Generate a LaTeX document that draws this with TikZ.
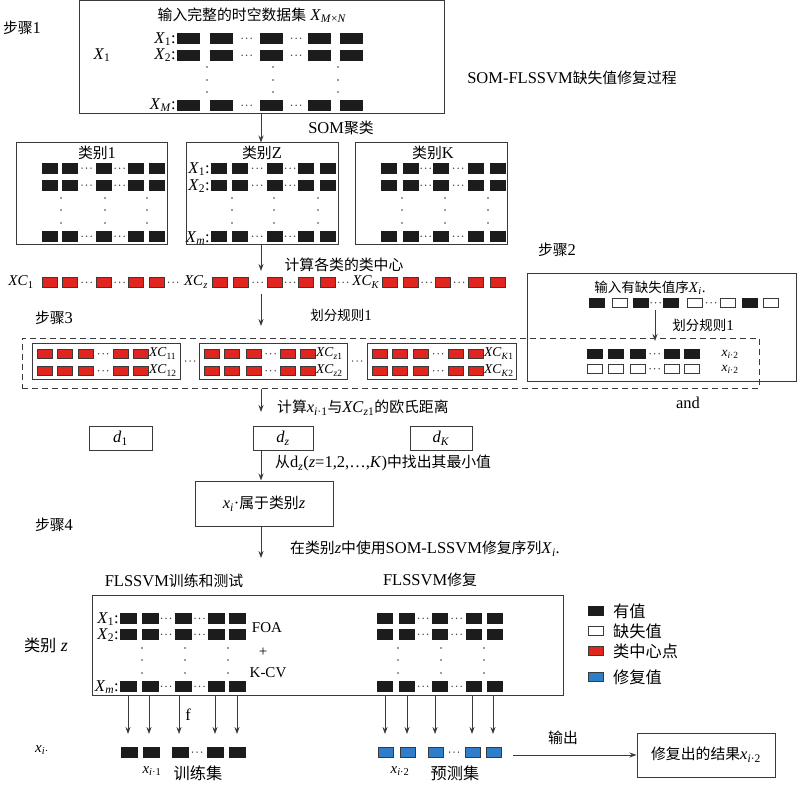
\documentclass[tikz,border=0pt]{standalone}
\usepackage{fontspec}
\setmainfont{Liberation Serif}
\newfontfamily\cjk[Scale=0.9]{Noto Sans CJK SC}
\usetikzlibrary{arrows.meta}
\newcommand\zh[1]{{\cjk #1}}
\newcommand\vv[2]{\textit{#1}\textsubscript{#2}}
\definecolor{cblack}{HTML}{1C1C1C}
\definecolor{cred}{HTML}{E0241E}
\definecolor{cblue}{HTML}{2F7EC9}
\definecolor{lcol}{HTML}{3A3A3A}
\tikzset{
 framebox/.style={draw=lcol, line width=1pt, rectangle, inner sep=0pt},
 dbox/.style={draw=lcol, line width=1pt, rectangle, inner sep=0pt, dash pattern=on 6pt off 4pt},
 arr/.style={draw=lcol, line width=0.9pt, -{Stealth[length=7pt,width=5pt]}},
 blk/.style={fill=cblack, draw=cblack, line width=0.5pt},
 wht/.style={fill=white, draw=lcol, line width=0.8pt},
 rd/.style={fill=cred, draw=lcol, line width=0.5pt},
 bl/.style={fill=cblue, draw=lcol, line width=0.5pt},
 lbl/.style={inner sep=0pt, font=\fontsize{16.5}{18}\selectfont},
 big/.style={inner sep=0pt, font=\fontsize{18}{20}\selectfont},
 sml/.style={inner sep=0pt, font=\fontsize{15}{17}\selectfont},
 tny/.style={inner sep=0pt, font=\fontsize{13.5}{15}\selectfont},
}
% style, top, width, height, list of left x
\newcommand\cellrow[5]{\foreach \cx in {#5}{\draw[#1] (\cx,#2) rectangle ++(#3,#4);}}
\newcommand\hd[2]{\foreach \dd in {-4.5,0,4.5}{\fill[lcol] ({#1+(\dd)},#2) circle (0.75);}}
\newcommand\vd[2]{\foreach \vy in {#2}{\fill[lcol] (#1,\vy) circle (0.9);}}
\begin{document}
\begin{tikzpicture}[x=1pt,y=-1pt]
\useasboundingbox (0,0) rectangle (800,786);
\coordinate (ax) at (261,0);

% ---------- step 1 ----------
\node[lbl] (st1) at (22,28) {\zh{步骤}1};
\node[framebox, minimum width=365pt, minimum height=113pt] (top) at (261.5,57.5) {};
\node[lbl] (ttl) at (252,15) {\zh{输入完整的时空数据集} \vv{X}{\textit{M}×\textit{N}}};
\node[lbl] (bigx) at (102,55) {\vv{X}{1}};
\node[lbl, anchor=east] (tx1) at (176,39) {\vv{X}{1}:};
\node[lbl, anchor=east] (tx2) at (176,55) {\vv{X}{2}:};
\node[lbl, anchor=east] (txm) at (176,105) {\vv{X}{\textit{M}}:};
\cellrow{blk}{33}{22}{10.5}{177,210,260,308,340}
\cellrow{blk}{50}{22}{10.5}{177,210,260,308,340}
\cellrow{blk}{100}{22}{10.5}{177,210,260,308,340}
\foreach \ry in {38.25,55.25,105.25}{\hd{246.5}{\ry}\hd{296}{\ry}}
\foreach \vx in {207,273,338}{\vd{\vx}{67,80,92}}
\node[lbl] (proc) at (572,78) {SOM-FLSSVM\zh{缺失值修复过程}};

\node[lbl] (som) at (341,128) {SOM\zh{聚类}};

% ---------- clusters ----------
\node[framebox, minimum width=151pt, minimum height=102pt] (c1) at (91.5,194) {};
\node[framebox, minimum width=152pt, minimum height=102pt] (c2) at (262,194) {};
\node[framebox, minimum width=152pt, minimum height=102pt] (c3) at (431,194) {};
\node[lbl] (c1t) at (97,153) {\zh{类别}1};
\node[lbl] (c2t) at (262,153) {\zh{类别}Z};
\node[lbl] (c3t) at (433,153) {\zh{类别}K};
\foreach \ry in {163,180,231}{
  \cellrow{blk}{\ry}{15}{10.5}{42,62,96,128,149}
  \cellrow{blk}{\ry}{15}{10.5}{211,232,267,298,320}
  \cellrow{blk}{\ry}{15}{10.5}{381,403,433,468,490}
}
\foreach \ry in {168.25,185.25,236.25}{\hd{86.5}{\ry}\hd{119.5}{\ry}\hd{257}{\ry}\hd{290}{\ry}\hd{425.5}{\ry}\hd{458}{\ry}}
\foreach \vx in {61,105,147,232,274,318,402,445,488}{\vd{\vx}{198,210,223}}
\node[lbl, anchor=east] (cx1) at (210,169) {\vv{X}{1}:};
\node[lbl, anchor=east] (cx2) at (210,186) {\vv{X}{2}:};
\node[lbl, anchor=east] (cxm) at (210,238) {\vv{X}{\textit{m}}:};

\draw[arr] (top.south -| ax) -- (c2.north -| ax);

% ---------- class centres ----------
\coordinate (e2) at (261,271);
\draw[arr] (c2.south -| ax) -- (e2);
\node[lbl] (cent) at (344,265) {\zh{计算各类的类中心}};
\cellrow{rd}{277}{15}{10.5}{42,62,96,128,149,212,233,267,298,320,382,403,435,468,490}
\foreach \hx in {86.5,119.5,257.5,290,426.5,459,173,343}{\hd{\hx}{282.25}}
\node[sml] (xc1) at (21,282) {\vv{XC}{1}};
\node[sml] (xcz) at (196,282) {\vv{XC}{\textit{z}}};
\node[sml] (xck) at (366,282) {\vv{XC}{\textit{K}}};

% ---------- step 3 ----------
\node[lbl] (st3) at (54,318) {\zh{步骤}3};
\coordinate (s3) at (261,294);
\coordinate (e3) at (261,326);
\draw[arr] (s3) -- (e3);
\node[sml] (rule1) at (341,315) {\zh{划分规则}1};
\node[dbox, minimum width=737pt, minimum height=50pt] (dash) at (390.5,363) {};
\node[framebox, minimum width=148pt, minimum height=36pt] (ia) at (106,361) {};
\node[framebox, minimum width=148pt, minimum height=36pt] (ib) at (273,361) {};
\node[framebox, minimum width=149pt, minimum height=36pt] (ic) at (441.5,361) {};
\hd{190}{361}\hd{357}{361}
\foreach \ry in {349,366}{
  \cellrow{rd}{\ry}{15}{9.5}{37,57,78,113,133}
  \cellrow{rd}{\ry}{15}{9.5}{204,224,246,280,300}
  \cellrow{rd}{\ry}{15}{9.5}{372,392,413,448,468}
}
\foreach \ry in {353.75,370.75}{\hd{103}{\ry}\hd{270.5}{\ry}\hd{438}{\ry}}
\node[tny, anchor=west] (l11) at (149,353.5) {\vv{XC}{11}};
\node[tny, anchor=west] (l12) at (149,370.5) {\vv{XC}{12}};
\node[tny, anchor=west] (lz1) at (316,353.5) {\vv{XC}{\textit{z}1}};
\node[tny, anchor=west] (lz2) at (316,370.5) {\vv{XC}{\textit{z}2}};
\node[tny, anchor=west] (lk1) at (484,353.5) {\vv{XC}{\textit{K}1}};
\node[tny, anchor=west] (lk2) at (484,370.5) {\vv{XC}{\textit{K}2}};

% ---------- step 2 ----------
\node[lbl] (st2) at (557,250) {\zh{步骤}2};
\node[framebox, minimum width=269pt, minimum height=107pt] (s2box) at (661.5,327.5) {};
\node[sml] (inp) at (650,288) {\zh{输入有缺失值序}\vv{X}{\textit{i}}.};
\cellrow{blk}{298}{15}{9.5}{589,633,663,742}
\cellrow{wht}{298}{15}{9.5}{612,687,720,763}
\hd{655.5}{302.75}\hd{711}{302.75}
\coordinate (s2a) at (655,310);
\coordinate (e2a) at (655,341);
\draw[arr] (s2a) -- (e2a);
\node[sml] (rule2) at (703,325) {\zh{划分规则}1};
\cellrow{blk}{349}{15}{9.5}{587,608,630,664,684}
\cellrow{wht}{364}{15}{9.5}{587,608,630,664,684}
\hd{654.5}{353.75}\hd{654.5}{368.75}
\node[tny] (xi2a) at (730,354) {\vv{x}{\textit{i}·2}};
\node[tny] (xi2b) at (730,369) {\vv{x}{\textit{i}·2}};
\node[lbl] (and) at (688,403) {and};

% ---------- distances ----------
\coordinate (e4) at (261,412);
\draw[arr] (dash.south -| ax) -- (e4);
\node[lbl, anchor=west] (dist) at (277,408) {\zh{计算}\vv{x}{\textit{i}·1}\zh{与}\vv{XC}{\textit{z}1}\zh{的欧氏距离}};
\node[framebox, minimum width=63pt, minimum height=24pt] (d1) at (120.5,438) {};
\node[framebox, minimum width=60pt, minimum height=24pt] (dz) at (283,438) {};
\node[framebox, minimum width=62pt, minimum height=24pt] (dk) at (441,438) {};
\node[lbl] (d1t) at (120.5,438) {\vv{d}{1}};
\node[lbl] (dzt) at (283,438) {\vv{d}{\textit{z}}};
\node[lbl] (dkt) at (441,438) {\vv{d}{\textit{K}}};

\node[framebox, minimum width=138pt, minimum height=45pt] (xz) at (264,503.5) {};
\node[lbl] (xzt) at (264,503.5) {\vv{x}{\textit{i}}·\zh{属于类别}\textit{z}};
\draw[arr] (dz.south -| ax) -- (xz.north -| ax);
\node[lbl, anchor=west] (minv) at (275,463) {\zh{从}d\textsubscript{\textit{z}}(\textit{z}=1,2,…,\textit{K})\zh{中找出其最小值}};

% ---------- step 4 ----------
\node[lbl] (st4) at (54,525) {\zh{步骤}4};
\coordinate (e6) at (261,558);
\draw[arr] (xz.south -| ax) -- (e6);
\node[lbl, anchor=west] (rep) at (290,549) {\zh{在类别}\textit{z}\zh{中使用}SOM-LSSVM\zh{修复序列}\vv{X}{\textit{i}}.};

\node[lbl] (trt) at (174,581) {FLSSVM\zh{训练和测试}};
\node[lbl] (fxt) at (430,580) {FLSSVM\zh{修复}};
\node[framebox, minimum width=471pt, minimum height=100pt] (bz) at (327.5,645) {};
\node[big] (cz) at (46,645) {\zh{类别} \textit{z}};
\foreach \ry in {613,629,681}{
  \cellrow{blk}{\ry}{16}{10.5}{120,142,175,208,229}
  \cellrow{blk}{\ry}{15}{10.5}{377,399,432,466,487}
}
\foreach \ry in {618.25,634.25,686.25}{\hd{166}{\ry}\hd{199.5}{\ry}\hd{423}{\ry}\hd{456.5}{\ry}}
\foreach \vx in {142,185,228,398,441,484}{\vd{\vx}{648,660,673}}
\node[lbl, anchor=east] (bx1) at (119,619) {\vv{X}{1}:};
\node[lbl, anchor=east] (bx2) at (119,635) {\vv{X}{2}:};
\node[lbl, anchor=east] (bxm) at (119,687) {\vv{X}{\textit{m}}:};
\node[sml] (foa) at (267,628) {FOA};
\node[sml] (plus) at (263,652) {+};
\node[sml] (kcv) at (268,673) {K-CV};

% legend
\draw[blk] (588,606.5) rectangle ++(15,9);
\draw[wht] (588,626.5) rectangle ++(15,9);
\draw[rd] (588,646.5) rectangle ++(15,9);
\draw[bl] (588,672) rectangle ++(15,9);
\node[big, anchor=west] (lg1) at (613,611) {\zh{有值}};
\node[big, anchor=west] (lg2) at (613,631) {\zh{缺失值}};
\node[big, anchor=west] (lg3) at (613,651.5) {\zh{类中心点}};
\node[big, anchor=west] (lg4) at (613,677) {\zh{修复值}};

% arrows to bottom rows
\foreach \bx in {128,149,179,215,237,385,407,435,472,493}{
  \coordinate (bt) at (\bx,734);
  \draw[arr] (bz.south -| bt) -- (bt);
}
\node[lbl] (fl) at (188,715) {f};
\cellrow{blk}{747}{16}{10}{121,143,172,207,229}
\cellrow{bl}{747}{15}{10}{378,400,428,465,486}
\hd{197}{752}\hd{454}{752}
\node[sml] (xis) at (42,750) {\vv{x}{\textit{i}·}};
\node[sml] (xi1) at (152,771) {\vv{x}{\textit{i}·1}};
\node[big] (trs) at (198,773) {\zh{训练集}};
\node[sml] (xi2) at (400,771) {\vv{x}{\textit{i}·2}};
\node[big] (pds) at (455,773) {\zh{预测集}};

\node[framebox, minimum width=138pt, minimum height=44pt] (res) at (706,755) {};
\node[lbl] (rest) at (706,755) {\zh{修复出的结果}\vv{x}{\textit{i}·2}};
\coordinate (os) at (513,755);
\draw[arr] (os) -- (res.west);
\node[lbl] (outl) at (563,738) {\zh{输出}};
\end{tikzpicture}
\end{document}
